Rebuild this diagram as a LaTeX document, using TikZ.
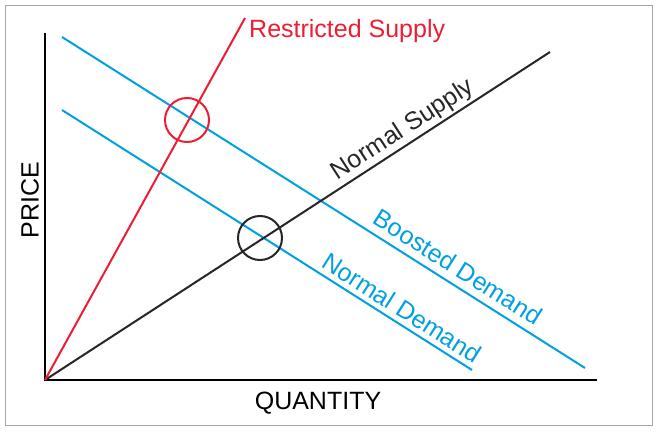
\documentclass[tikz,border=0pt]{standalone}
\usepackage{fontspec}
\setmainfont{Liberation Sans}
\begin{document}
\begin{tikzpicture}[x=1pt,y=-1pt,
  lbl/.style={font=\fontsize{25}{28}\selectfont,inner sep=0pt},
  ln/.style={line width=2pt}]
\definecolor{cb}{RGB}{0,160,225}
\definecolor{cr}{RGB}{235,30,50}
\useasboundingbox (0,0) rectangle (660,438);
\draw[gray!70,line width=0.8pt] (5,5) rectangle (652,425);
\coordinate (o) at (45,380);
\coordinate (ytop) at (45,33);
\coordinate (xend) at (597,380);
\draw[ln] (ytop) -- (o) -- (xend);
\coordinate (rs) at (245,18);
\coordinate (ns) at (550,52);
\coordinate (bd1) at (62,37); \coordinate (bd2) at (585,368);
\coordinate (nd1) at (62,110); \coordinate (nd2) at (472,370);
\draw[ln,cb] (bd1) -- (bd2);
\draw[ln,cb] (nd1) -- (nd2);
\draw[ln,black!85] (o) -- (ns);
\draw[ln,cr] (o) -- (rs);
\node[draw=cr,ln,circle,minimum size=44pt] (c1) at (187,120) {};
\node[draw=black!85,ln,circle,minimum size=44pt] (c2) at (260,238) {};
\node[lbl,text=cr,anchor=west] (t1) at (249,31) {Restricted Supply};
\node[lbl,text=black!85,rotate=33] (t2) at (403,130) {Normal Supply};
\node[lbl,text=cb,rotate=-32.3] (t3) at (458,267) {Boosted Demand};
\node[lbl,text=cb,rotate=-32.4] (t4) at (402,308) {Normal Demand};
\node[lbl,rotate=90] (t5) at (30,200) {PRICE};
\node[lbl] (t6) at (318,403) {QUANTITY};
\end{tikzpicture}
\end{document}
